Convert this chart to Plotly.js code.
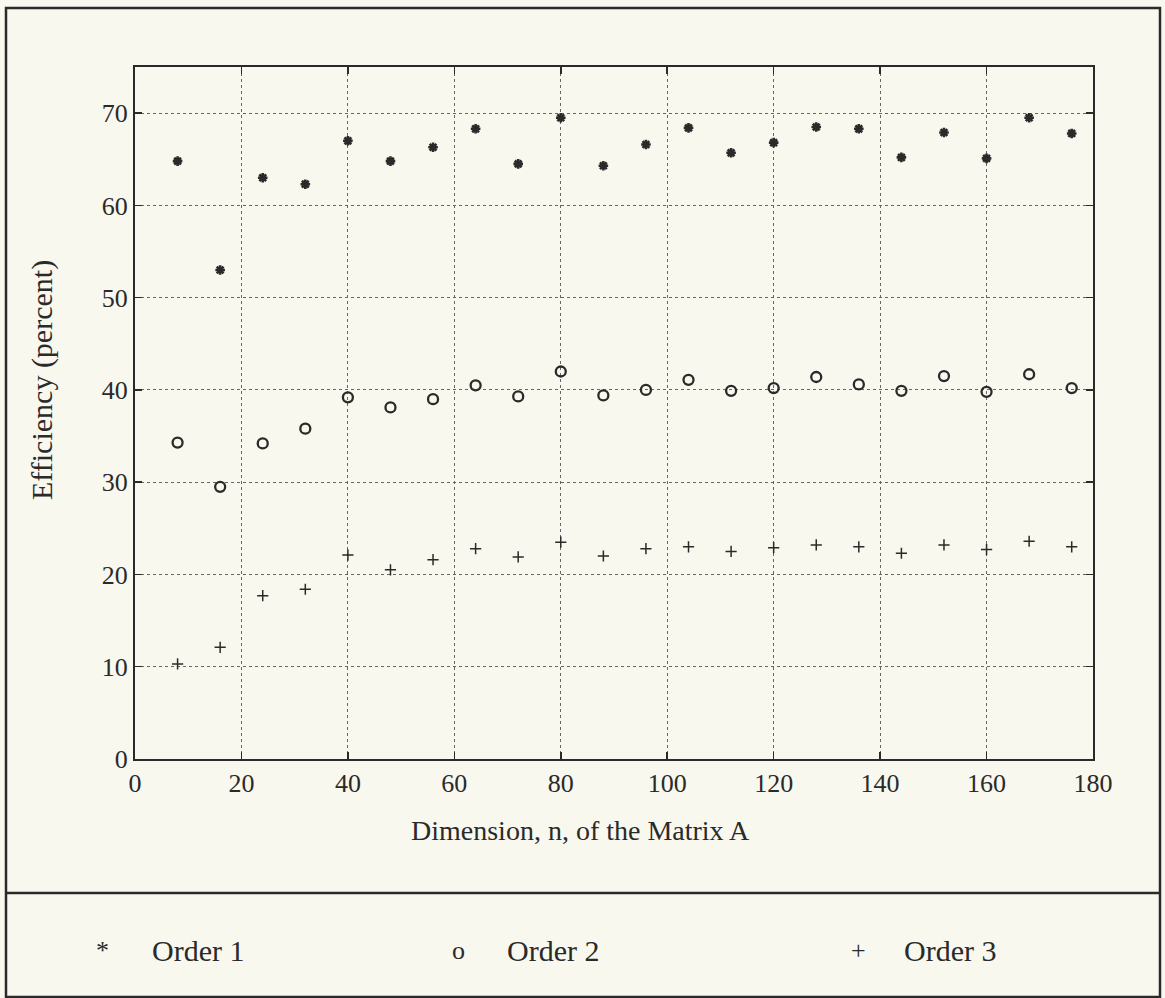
<!DOCTYPE html>
<html>
<head>
<meta charset="utf-8">
<script src="https://cdn.plot.ly/plotly-3.0.1.min.js"></script>
<style>html,body{margin:0;padding:0;background:#f9f8ee;}#chart{width:1165px;height:998px;}</style>
</head>
<body>
<div id="chart"></div>
<script>
// ---- data ----
const dimension = [8,16,24,32,40,48,56,64,72,80,88,96,104,112,120,128,136,144,152,160,168,176];
const order1 = [64.8,53.0,63.0,62.3,67.0,64.8,66.3,68.3,64.5,69.5,64.3,66.6,68.4,65.7,66.8,68.5,68.3,65.2,67.9,65.1,69.5,67.8];
const order2 = [34.3,29.5,34.2,35.8,39.2,38.1,39.0,40.5,39.3,42.0,39.4,40.0,41.1,39.9,40.2,41.4,40.6,39.9,41.5,39.8,41.7,40.2];
const order3 = [10.3,12.1,17.7,18.4,22.1,20.5,21.6,22.8,21.9,23.5,22.0,22.8,23.0,22.5,22.9,23.2,23.0,22.3,23.2,22.7,23.6,23.0];
const seriesNames = ['Order 1','Order 2','Order 3'];
const legendGlyphs = ['*','o','+'];
const xTicks = [0,20,40,60,80,100,120,140,160,180];
const yTicks = [0,10,20,30,40,50,60,70];
const xTitle = 'Dimension, n, of the Matrix A';
const yTitle = 'Efficiency (percent)';

// ---- layout geometry (pixels) ----
const W = 1165, H = 998;
const L = 135, R = 1093, T = 67, B = 759;
const PW = R - L, PH = B - T;
const px2x = p => (p - L) / PW;
const py2y = p => (B - p) / PH;

const FONT = 'Liberation Serif, Times New Roman, serif';
const ink = '#2a2a2a';

const traces = [
  {x: dimension, y: order1, name: seriesNames[0], type: 'scatter', mode: 'markers',
   marker: {symbol: 'asterisk-open', size: 8, line: {width: 2.6, color: ink}, color: ink}},
  {x: dimension, y: order2, name: seriesNames[1], type: 'scatter', mode: 'markers',
   marker: {symbol: 'circle-open', size: 10, line: {width: 2.3, color: ink}, color: ink}},
  {x: dimension, y: order3, name: seriesNames[2], type: 'scatter', mode: 'markers',
   marker: {symbol: 'cross-thin-open', size: 8, line: {width: 1.5, color: ink}, color: ink}}
];

const axisCommon = {
  showline: true, linecolor: ink, linewidth: 2, mirror: 'ticks',
  ticks: 'inside', ticklen: 7, tickwidth: 1.5, tickcolor: ink,
  showgrid: true, gridcolor: '#666', gridwidth: 1, griddash: 'dot',
  zeroline: false, tickfont: {family: FONT, size: 26, color: ink}
};

const legendSymX = [102, 458, 858];
const legendTextX = [150, 505, 902];
const annotations = [
  {xref: 'paper', yref: 'paper', x: px2x(580), y: py2y(830), text: xTitle, showarrow: false,
   xanchor: 'center', yanchor: 'middle', font: {family: FONT, size: 28, color: ink}},
  {xref: 'paper', yref: 'paper', x: px2x(42), y: py2y(380), text: yTitle, showarrow: false, textangle: -90,
   xanchor: 'center', yanchor: 'middle', font: {family: FONT, size: 30, color: ink}}
];
seriesNames.forEach((n, i) => {
  annotations.push({xref: 'paper', yref: 'paper', x: px2x(legendSymX[i]), y: py2y(950),
    text: legendGlyphs[i], showarrow: false, xanchor: 'center', yanchor: 'middle',
    font: {family: FONT, size: 26, color: ink}});
  annotations.push({xref: 'paper', yref: 'paper', x: px2x(legendTextX[i]), y: py2y(950),
    text: n, showarrow: false, xanchor: 'left', yanchor: 'middle',
    font: {family: FONT, size: 30, color: ink}});
});

const layout = {
  width: W, height: H,
  margin: {l: L, r: W - R, t: T, b: H - B, pad: 0},
  paper_bgcolor: '#f9f8ee', plot_bgcolor: '#f9f8ee',
  showlegend: false,
  xaxis: Object.assign({}, axisCommon, {range: [0, 180], tickvals: xTicks, ticktext: xTicks.map(String)}),
  yaxis: Object.assign({}, axisCommon, {range: [0, 75], tickvals: yTicks, ticktext: yTicks.map(String)}),
  shapes: [
    {type: 'rect', xref: 'paper', yref: 'paper', x0: px2x(6), x1: px2x(1160), y0: py2y(8), y1: py2y(997),
     line: {color: ink, width: 2.5}},
    {type: 'line', xref: 'paper', yref: 'paper', x0: px2x(6), x1: px2x(1160), y0: py2y(893), y1: py2y(893),
     line: {color: ink, width: 2.5}}
  ],
  annotations: annotations
};

Plotly.newPlot('chart', traces, layout, {displayModeBar: false, staticPlot: true});
</script>
</body>
</html>
